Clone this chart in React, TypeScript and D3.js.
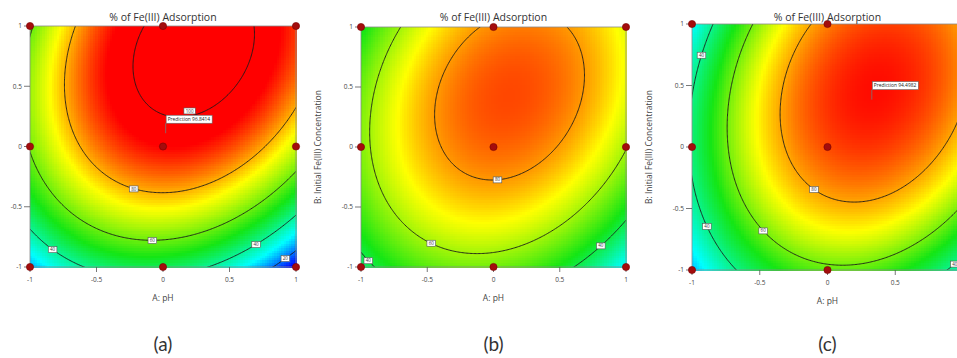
import * as d3 from 'd3';
import React from 'react';

const W = 957;
const H = 358;

// axis ticks (coded factor levels)
const tickValues = [-1, -0.5, 0, 0.5, 1];
const tickLabels = ['-1', '-0.5', '0', '0.5', '1'];
// design points of the face-centred design
const designLevels = [-1, 0, 1];
// contour levels shown
const contourLevels = [20, 40, 60, 80, 100];

// quadratic model: [b0, A, B, AB, A², B²]
const coefA = [93.8, 4.15, 28.5, 11.5, -28.85, -19.5];
const coefB = [85, 2.17, 13.5, 9.88, -26.6, -17];
const coefC = [88.1, 16.3, 12.9, 10, -30, -17.4];

// colour ramp blue -> cyan -> green -> yellow -> red, values per panel
const colorStops = ['#0000ff', '#00ffff', '#14e614', '#ffff00', '#ff0000'];
const colorDomA = [12, 31, 52, 74, 94];
const colorDomB = [8, 22, 45, 70, 95];
const colorDomC = [5, 28, 52, 72, 95];

// contour labels: [level, A, B, snap to line?]
const labelsA = [[100, 0.2, 0.295, 0], [80, -0.22, -0.31, 1], [60, -0.08, -0.75, 1], [40, -0.83, -0.83, 1], [40, 0.7, -0.78, 1], [20, 0.92, -0.9, 1]];
const labelsB = [[80, 0.03, -0.3, 1], [60, -0.47, -0.78, 1], [40, -0.945, -0.89, 1], [40, 0.81, -0.77, 1]];
const labelsC = [[80, -0.1, -0.32, 1], [60, -0.475, -0.66, 1], [40, -0.93, 0.7, 1], [40, -0.89, -0.62, 1], [40, 0.94, -0.95, 1]];

// prediction flags: [A, B, text]
const flagA = [0.02, 0.11, 'Prediction 96.8414'];
const flagC = [0.327, 0.385, 'Prediction 94.4982'];

const title = '% of Fe(III) Adsorption';
const xTitle = 'A: pH';
const yTitle = 'B: Initial Fe(III) Concentration';
const captions = ['(a)', '(b)', '(c)'];

const panels = [
  { id: 'a', left: 30, right: 296, top: 26, bottom: 267, coef: coefA, dom: colorDomA, labels: labelsA, flag: flagA, yLabel: false, caption: captions[0] },
  { id: 'b', left: 361, right: 626, top: 27, bottom: 267, coef: coefB, dom: colorDomB, labels: labelsB, flag: null, yLabel: true, caption: captions[1] },
  { id: 'c', left: 692, right: 963, top: 24, bottom: 270, coef: coefC, dom: colorDomC, labels: labelsC, flag: flagC, yLabel: true, caption: captions[2] },
];

const model = (c: number[], x: number, y: number) =>
  c[0] + c[1] * x + c[2] * y + c[3] * x * y + c[4] * x * x + c[5] * y * y;

const font = "'Open Sans', 'Noto Sans', sans-serif";

function Panel({ p }: { p: any }) {
  const sx = d3.scaleLinear().domain([-1, 1]).range([p.left, p.right]);
  const sy = d3.scaleLinear().domain([-1, 1]).range([p.bottom, p.top]);
  const color = d3.scaleLinear<string>().domain(p.dom).range(colorStops).clamp(true);
  const f = (x: number, y: number) => model(p.coef, x, y);

  // filled surface
  const nx = 110, ny = 100;
  const cells: any[] = [];
  for (let i = 0; i < nx; i++) {
    for (let j = 0; j < ny; j++) {
      const x0 = -1 + (i * 2) / nx, x1 = -1 + ((i + 1) * 2) / nx;
      const y0 = -1 + (j * 2) / ny, y1 = -1 + ((j + 1) * 2) / ny;
      if (sx(x0) > W) continue;
      cells.push(
        <rect key={i + '-' + j} x={sx(x0)} y={sy(y1)} width={sx(x1) - sx(x0) + 0.6} height={sy(y0) - sy(y1) + 0.6}
          fill={color(f((x0 + x1) / 2, (y0 + y1) / 2))} />
      );
    }
  }

  // contour lines on a slightly larger grid, clipped to the plot
  const ext = 1.1, step = 0.01, n = Math.round((2 * ext) / step) + 1;
  const values: number[] = new Array(n * n);
  for (let j = 0; j < n; j++) for (let i = 0; i < n; i++) values[j * n + i] = f(-ext + i * step, ext - j * step);
  const contours = d3.contours().size([n, n]).thresholds(contourLevels)(values);
  const proj = d3.geoTransform({
    point(x: number, y: number) {
      (this as any).stream.point(sx(-ext + (x - 0.5) * step), sy(ext - (y - 0.5) * step));
    },
  });
  const path = d3.geoPath(proj);

  // snap labels onto their contour
  const labels = p.labels.map((l: number[]) => {
    const [lev, x, y, snap] = l;
    let best = y, err = Infinity;
    if (snap) {
      for (let t = y - 0.25; t <= y + 0.25; t += 0.004) {
        const e = Math.abs(f(x, t) - lev);
        if (e < err) { err = e; best = t; }
      }
    }
    return { lev, x, y: best };
  });

  const cx = (p.left + p.right) / 2;
  const cy = (p.top + p.bottom) / 2;

  return (
    <g>
      <defs>
        <clipPath id={'clip-' + p.id}>
          <rect x={p.left} y={p.top} width={p.right - p.left} height={p.bottom - p.top} />
        </clipPath>
      </defs>
      <g shapeRendering="crispEdges">{cells}</g>
      <g clipPath={`url(#clip-${p.id})`}>
        {contours.map((c, k) => (
          <path key={k} d={path(c as any) || ''} fill="none" stroke="#1a1a1a" strokeWidth={0.9} />
        ))}
      </g>
      <rect x={p.left} y={p.top} width={p.right - p.left} height={p.bottom - p.top} fill="none" stroke="#8a8a8a" strokeWidth={0.8} />

      {labels.map((l: any, k: number) => {
        const t = String(l.lev);
        const w = t.length * 2.8 + 3;
        return (
          <g key={'l' + k} transform={`translate(${sx(l.x)},${sy(l.y)})`}>
            <rect x={-w / 2} y={-3} width={w} height={6} fill="#ffffff" stroke="#555" strokeWidth={0.6} />
            <text x={0} y={1.6} textAnchor="middle" fontSize={4.5} fill="#333" fontFamily={font}>{t}</text>
          </g>
        );
      })}

      {/* axes */}
      {tickValues.map((v, k) => (
        <g key={'ty' + k}>
          <line x1={p.left - 6} x2={p.left} y1={sy(v)} y2={sy(v)} stroke="#555" strokeWidth={0.8} />
          <text x={p.left - 8} y={sy(v) + 2.3} textAnchor="end" fontSize={6.5} fill="#444" fontFamily={font}>{tickLabels[k]}</text>
          {sx(v) < W - 2 && (
            <g>
              <line x1={sx(v)} x2={sx(v)} y1={p.bottom} y2={p.bottom + 5} stroke="#555" strokeWidth={0.8} />
              <text x={sx(v)} y={p.bottom + 15} textAnchor="middle" fontSize={6.5} fill="#444" fontFamily={font}>{tickLabels[k]}</text>
            </g>
          )}
        </g>
      ))}

      {/* design points */}
      {designLevels.map((a) =>
        designLevels.map((b) => (
          <circle key={a + '_' + b} cx={sx(a)} cy={sy(b)} r={3.6} fill="#a30d0d" stroke="#7a0000" strokeWidth={0.6} />
        ))
      )}

      {p.flag && (
        <g>
          <line x1={sx(p.flag[0])} x2={sx(p.flag[0])} y1={sy(p.flag[1])} y2={sy(p.flag[1]) - 10} stroke="#777" strokeWidth={0.8} />
          <rect x={sx(p.flag[0]) + 0.5} y={sy(p.flag[1]) - 18} width={46} height={8} fill="#ffffff" stroke="#666" strokeWidth={0.6} />
          <text x={sx(p.flag[0]) + 2} y={sy(p.flag[1]) - 12.3} fontSize={4.9} fill="#222" fontFamily={font}>{p.flag[2]}</text>
        </g>
      )}

      <text x={cx} y={21} textAnchor="middle" fontSize={10.5} fill="#333" fontFamily={font}>{title}</text>
      <text x={cx} y={p.bottom + 34} textAnchor="middle" fontSize={8.5} fill="#444" fontFamily={font}>{xTitle}</text>
      {p.yLabel && (
        <text transform={`translate(${p.left - 40},${cy}) rotate(-90)`} textAnchor="middle" fontSize={8.5} fill="#444" fontFamily={font}>{yTitle}</text>
      )}
      <text x={cx} y={351} textAnchor="middle" fontSize={19} fill="#333" fontFamily="Lato, 'Open Sans', sans-serif">{p.caption}</text>
    </g>
  );
}

export default function App() {
  return (
    <svg width={W} height={H} style={{ position: 'absolute', left: 0, top: 0, background: '#fff' }}>
      <rect width={W} height={H} fill="#ffffff" />
      {panels.map((p) => (
        <Panel key={p.id} p={p} />
      ))}
    </svg>
  );
}
